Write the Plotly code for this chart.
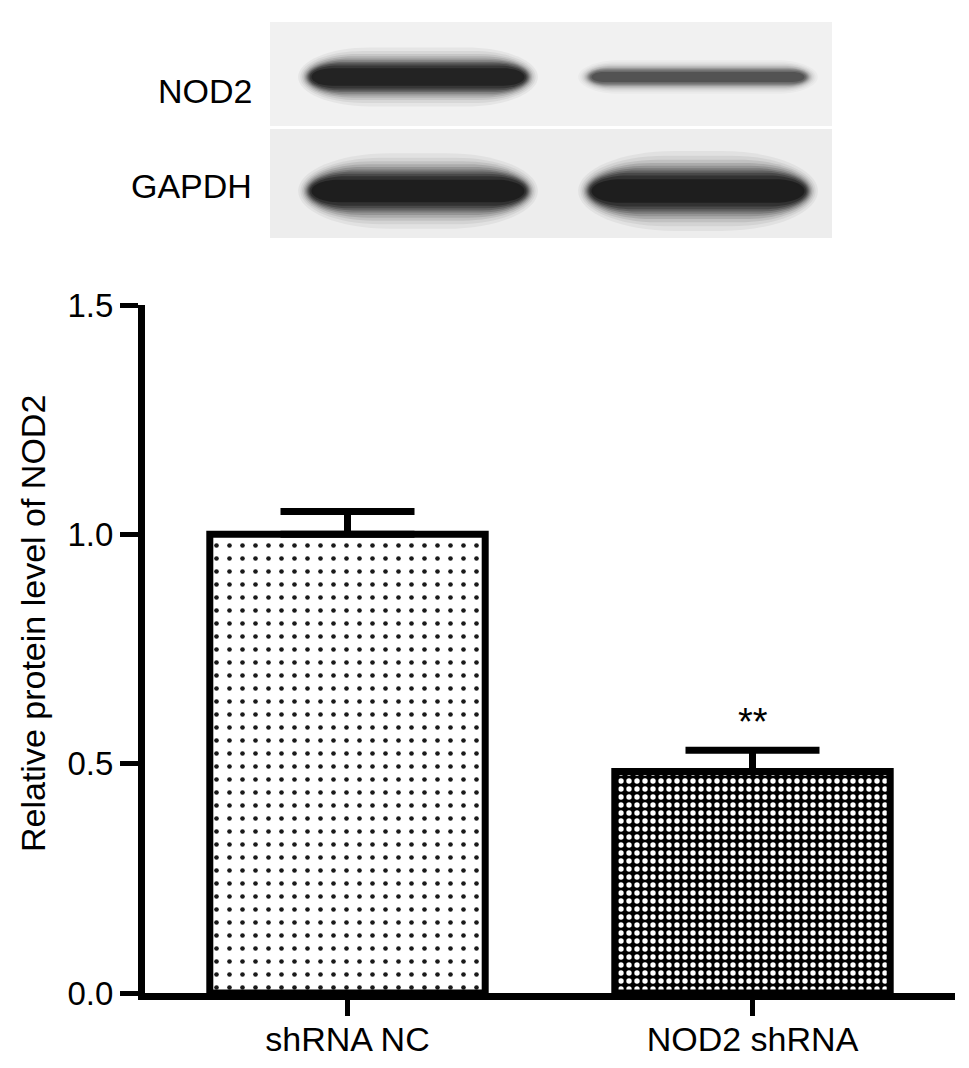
import plotly.graph_objects as go

# bar chart data
groups = ["shRNA NC", "NOD2 shRNA"]
means = [1.0, 0.483]
sem = [0.05, 0.046]
sig = ["", "**"]
y_ticks = [0.0, 0.5, 1.0, 1.5]

# western blot bands (relative darkness per lane)
blot_rows = ["NOD2", "GAPDH"]
nod2_bands = [0.95, 0.55]
gapdh_bands = [1.0, 1.0]

W, H = 969, 1068
L, R, T, B = 137, 22, 297, 83
FONT = "Liberation Sans, Arial, sans-serif"


def px(x, y):
    # pixel position -> paper coords
    return (x - L) / (W - L - R), (H - B - y) / (H - T - B)


def stadium(x0, x1, y0, y1):
    # rounded band outline in paper coords
    r = min((y1 - y0) / 2 * 2.4, (x1 - x0) / 2)
    k = 0.55
    ym = (y0 + y1) / 2
    h = (y1 - y0) / 2
    a = px(x0 + r, y0)
    segs = [f"M{a[0]},{a[1]}"]
    b = px(x1 - r, y0)
    segs.append(f"L{b[0]},{b[1]}")
    c1, c2, e = px(x1 - r + r * k, y0), px(x1, ym - h * k), px(x1, ym)
    segs.append(f"C{c1[0]},{c1[1]} {c2[0]},{c2[1]} {e[0]},{e[1]}")
    c1, c2, e = px(x1, ym + h * k), px(x1 - r + r * k, y1), px(x1 - r, y1)
    segs.append(f"C{c1[0]},{c1[1]} {c2[0]},{c2[1]} {e[0]},{e[1]}")
    e = px(x0 + r, y1)
    segs.append(f"L{e[0]},{e[1]}")
    c1, c2, e = px(x0 + r - r * k, y1), px(x0, ym + h * k), px(x0, ym)
    segs.append(f"C{c1[0]},{c1[1]} {c2[0]},{c2[1]} {e[0]},{e[1]}")
    c1, c2 = px(x0, ym - h * k), px(x0 + r - r * k, y0)
    segs.append(f"C{c1[0]},{c1[1]} {c2[0]},{c2[1]} {a[0]},{a[1]}")
    return " ".join(segs) + " Z"


fig = go.Figure()

fills = [
    dict(shape=".", fgcolor="#1a1a1a", bgcolor="white", size=13, solidity=0.1, fillmode="replace"),
    dict(shape=".", fgcolor="white", bgcolor="black", size=8, solidity=0.36, fillmode="replace"),
]
for g, m, s, p in zip(groups, means, sem, fills):
    fig.add_trace(go.Bar(
        x=[g], y=[m], width=0.68,
        marker=dict(color=p["bgcolor"], line=dict(color="black", width=7), pattern=p),
        error_y=dict(type="data", array=[s], arrayminus=[0], symmetric=False,
                     color="black", thickness=7, width=67),
        showlegend=False,
    ))

for g, m, s, t in zip(groups, means, sem, sig):
    if t:
        fig.add_annotation(x=g, y=m + s, text=t, showarrow=False, yshift=28,
                           font=dict(family=FONT, size=38, color="black"))

shapes = []
# blot panels
for y0, y1, c in [(14, 118, "#f1f1f1"), (121, 230, "#ededed")]:
    x0p, y0p = px(262, y0)
    x1p, y1p = px(824, y1)
    shapes.append(dict(type="rect", xref="paper", yref="paper", x0=x0p, x1=x1p,
                       y0=y1p, y1=y0p, fillcolor=c, line=dict(width=0), layer="below"))

lanes = [(410, 110), (690, 110)]
rows = [(nod2_bands, 69, [14, 8]), (gapdh_bands, 183, [18, 19])]
layers = [(2.1, 0.04), (1.85, 0.05), (1.65, 0.07), (1.48, 0.09), (1.33, 0.11),
          (1.2, 0.14), (1.08, 0.17), (0.96, 0.21), (0.82, 0.26), (0.62, 0.32)]
for vals, cy, hhs in rows:
    for (cx, hw), v, hh in zip(lanes, vals, hhs):
        # soft band: stacked translucent layers
        for f, a in layers:
            path = stadium(cx - hw - 9 * (f - 1), cx + hw + 9 * (f - 1),
                           cy - hh * f, cy + hh * f)
            shapes.append(dict(type="path", xref="paper", yref="paper", path=path,
                               fillcolor="black", opacity=min(1, v * a * 1.2),
                               line=dict(width=0)))

for name, cy in zip(blot_rows, [83, 178]):
    xp, yp = px(246, cy)
    fig.add_annotation(xref="paper", yref="paper", x=xp, y=yp, text=name,
                       showarrow=False, xanchor="right", yanchor="middle",
                       font=dict(family=FONT, size=34, color="black"))

# y-axis title as annotation so it can sit where the original has it
tx, ty = px(25, 616)
fig.add_annotation(xref="paper", yref="paper", x=tx, y=ty,
                   text="Relative protein level of NOD2", textangle=-90,
                   showarrow=False, xanchor="center", yanchor="middle",
                   font=dict(family=FONT, size=34, color="black"))

fig.update_layout(
    width=W, height=H,
    margin=dict(l=L, r=R, t=T, b=B),
    plot_bgcolor="white", paper_bgcolor="white",
    font=dict(family=FONT, color="black"),
    shapes=shapes,
    barmode="overlay",
)
fig.update_xaxes(
    range=[-0.5, 1.5], showline=True, linewidth=7, linecolor="black",
    ticks="outside", ticklen=16, tickwidth=5, tickcolor="black",
    tickfont=dict(size=34), ticklabelstandoff=-6, showgrid=False, zeroline=False,
)
fig.update_yaxes(
    range=[0, 1.5], tickvals=y_ticks, ticktext=[f"{v:.1f}" for v in y_ticks],
    showline=True, linewidth=7, linecolor="black",
    ticks="outside", ticklen=18, tickwidth=5, tickcolor="black",
    tickfont=dict(size=33), showgrid=False, zeroline=False,
)

fig.write_html("out.html")
